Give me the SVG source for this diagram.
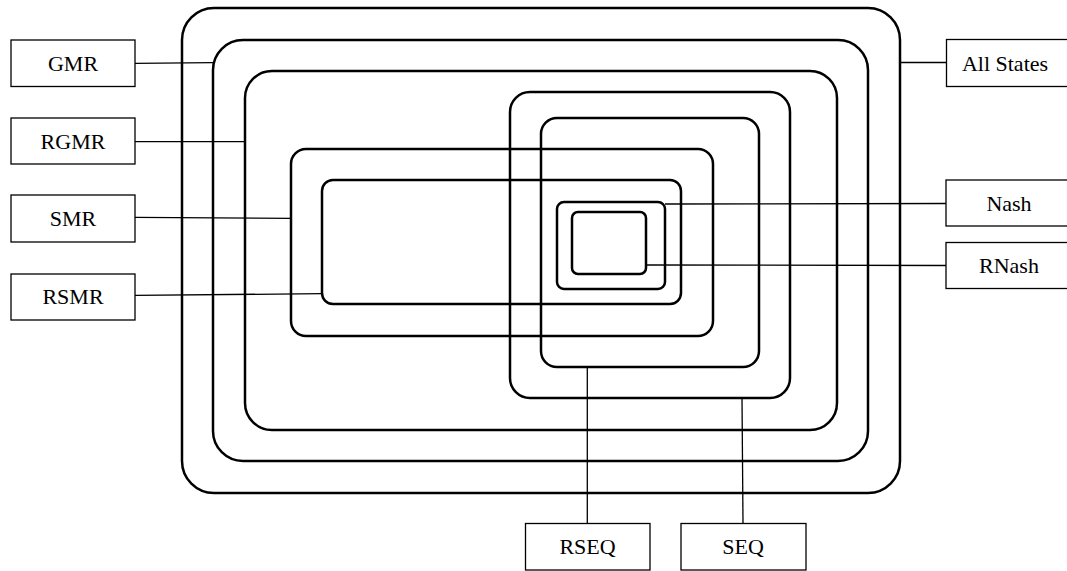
<svg xmlns="http://www.w3.org/2000/svg" width="1067" height="571" viewBox="0 0 1067 571">
<style>
.set{fill:none;stroke:#000;stroke-width:2.5}
.box{fill:#fff;stroke:#000;stroke-width:1.3}
.lbl{font-family:"Liberation Serif","Times New Roman",serif;font-size:22px;fill:#000;text-anchor:middle}
.conn line{stroke:#000;stroke-width:1.3}
</style>
<rect width="1067" height="571" fill="#fff"/>
<g id="sets">
<rect id="allstates-set" class="set" x="182" y="8" width="718" height="485" rx="32"/>
<rect id="gmr-set" class="set" x="213" y="40" width="655" height="421" rx="30"/>
<rect id="rgmr-set" class="set" x="245" y="71" width="592" height="359" rx="27"/>
<rect id="seq-set" class="set" x="510" y="92" width="280" height="306" rx="20"/>
<rect id="rseq-set" class="set" x="541" y="118" width="218" height="249" rx="16"/>
<rect id="smr-set" class="set" x="291" y="149" width="422" height="187" rx="15"/>
<rect id="rsmr-set" class="set" x="322" y="180" width="359" height="124" rx="11"/>
<rect id="nash-set" class="set" x="557" y="202" width="108" height="87" rx="7"/>
<rect id="rnash-set" class="set" x="572" y="212" width="74" height="62" rx="6"/>
</g>
<g id="connectors" class="conn">
<line x1="135" y1="63.3" x2="213" y2="62.7"/>
<line x1="135" y1="141.7" x2="245" y2="141.7"/>
<line x1="135" y1="217.3" x2="291" y2="218.3"/>
<line x1="135" y1="295.3" x2="322" y2="293.7"/>
<line x1="900" y1="62.5" x2="946" y2="62.5"/>
<line x1="665" y1="204" x2="946" y2="203.5"/>
<line x1="646" y1="265" x2="946" y2="265.5"/>
<line x1="587.3" y1="367" x2="587.3" y2="523.5"/>
<line x1="742" y1="398" x2="743" y2="523.5"/>
</g>
<g id="node-gmr"><rect class="box" x="11" y="40" width="124" height="46.5"/><text class="lbl" x="73" y="71">GMR</text></g>
<g id="node-rgmr"><rect class="box" x="11" y="118" width="124" height="46"/><text class="lbl" x="73" y="148.5">RGMR</text></g>
<g id="node-smr"><rect class="box" x="11" y="195" width="124" height="47"/><text class="lbl" x="73" y="226">SMR</text></g>
<g id="node-rsmr"><rect class="box" x="11" y="274" width="124" height="46"/><text class="lbl" x="73" y="304">RSMR</text></g>
<g id="node-allstates"><rect class="box" x="946.5" y="39.5" width="124" height="47"/><text class="lbl" x="1005" y="71">All States</text></g>
<g id="node-nash"><rect class="box" x="946" y="180" width="124" height="46"/><text class="lbl" x="1009" y="211">Nash</text></g>
<g id="node-rnash"><rect class="box" x="946" y="242.5" width="124" height="46"/><text class="lbl" x="1009" y="273">RNash</text></g>
<g id="node-rseq"><rect class="box" x="525.5" y="523.5" width="124.5" height="46.5"/><text class="lbl" x="587.5" y="554">RSEQ</text></g>
<g id="node-seq"><rect class="box" x="681" y="523.5" width="125" height="46.5"/><text class="lbl" x="743" y="554">SEQ</text></g>
</svg>
